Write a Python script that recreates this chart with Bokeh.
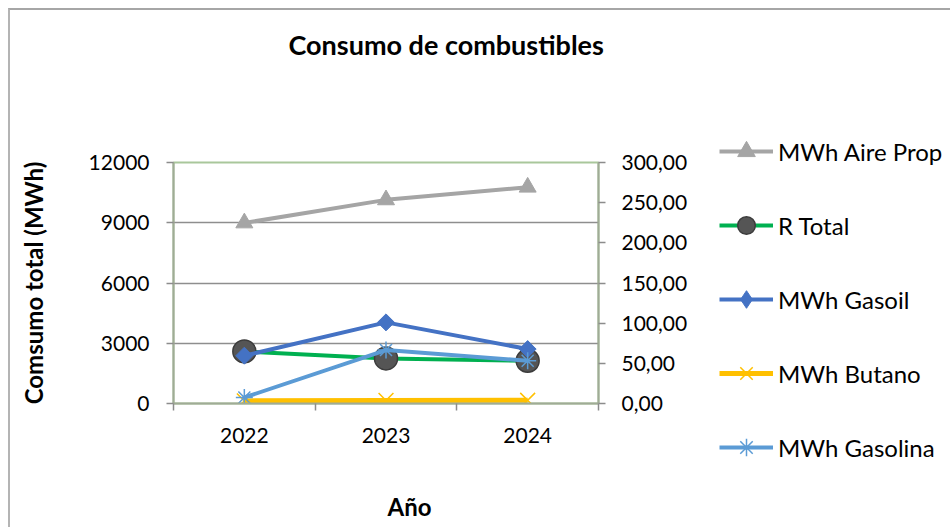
import math
from bokeh.plotting import figure
from bokeh.layouts import row
from bokeh.models import Range1d, LinearAxis, FixedTicker, Legend, LegendItem, Title
from bokeh.embed import file_html
from bokeh.resources import INLINE

# ---- data ----
years = ["2022", "2023", "2024"]
aire_prop = [8990, 10140, 10770]      # MWh (left axis)
r_total = [64.8, 56.1, 53.2]          # right axis
gasoil = [2380, 4040, 2710]           # MWh (left axis)
butano = [130, 150, 160]              # MWh (left axis)
gasolina = [300, 2660, 2130]          # MWh (left axis)
left_ticks = [0, 3000, 6000, 9000, 12000]
right_ticks = [0, 50, 100, 150, 200, 250, 300]
right_labels = ["0,00", "50,00", "100,00", "150,00", "200,00", "250,00", "300,00"]
series_names = ["MWh Aire Prop", "R Total", "MWh Gasoil", "MWh Butano", "MWh Gasolina"]

xs = [i + 0.5 for i in range(len(years))]
bounds = [float(i) for i in range(len(years) + 1)]

FONT = "Lato"
AXIS_COL = "#a0ab96"
TICK_COL = "#8c8c8c"
GREY = "#a5a5a5"
GREEN = "#00b050"
BLUE = "#4472c4"
YELLOW = "#ffc000"
LBLUE = "#5b9bd5"
SPHERE = "#555555"
SPHERE_EDGE = "#3c3c3c"

H = 517
p = figure(width=698, height=H, x_range=Range1d(0, len(years)), y_range=Range1d(0, 12000),
           output_backend="svg", toolbar_location=None,
           min_border_left=163, min_border_right=110, min_border_top=152, min_border_bottom=124)
p.frame_align = False
p.extra_y_ranges = {"right": Range1d(0, 300)}
p.outline_line_color = "#a9c79b"
p.outline_line_width = 2

# title (outermost) + spacer between it and the frame
p.title.text = "Consumo de combustibles"
p.title.text_font = FONT
p.title.text_font_size = "27px"
p.title.text_font_style = "bold"
p.title.text_color = "#000000"
p.title.align = "left"
p.title.offset = 115
p.title.standoff = 10
p.add_layout(Title(text=" ", text_font_size="1px", standoff=94), "above")

# x axis
xa = p.xaxis[0]
xa.ticker = FixedTicker(ticks=xs, minor_ticks=bounds)
xa.major_label_overrides = {x: y for x, y in zip(xs, years)}
xa.major_tick_out = 0
xa.major_tick_in = 0
xa.minor_tick_out = 7
xa.minor_tick_in = 0
xa.minor_tick_line_color = TICK_COL
xa.minor_tick_line_width = 1.5
xa.axis_line_color = AXIS_COL
xa.axis_line_width = 2
xa.major_label_standoff = 17
xa.major_label_text_font = FONT
xa.major_label_text_font_size = "21px"
xa.major_label_text_color = "#000000"

p.add_layout(Title(text=" ", text_font_size="1px", standoff=41), "below")
p.add_layout(Title(text="Año", align="left", offset=214, text_font=FONT, text_font_size="24px",
                   text_font_style="bold", text_color="#000000", standoff=0), "below")

# left axis
ya = p.yaxis[0]
ya.ticker = FixedTicker(ticks=left_ticks)
ya.major_tick_out = 7
ya.major_tick_in = 0
ya.major_tick_line_color = TICK_COL
ya.major_tick_line_width = 1.5
ya.axis_line_color = AXIS_COL
ya.axis_line_width = 2
ya.major_label_standoff = 17
ya.major_label_text_font = FONT
ya.major_label_text_font_size = "21px"
ya.major_label_text_color = "#000000"
ya.axis_label = "Comsumo total (MWh)"
ya.axis_label_text_font = FONT
ya.axis_label_text_font_size = "24px"
ya.axis_label_text_font_style = "bold"
ya.axis_label_text_color = "#000000"
ya.axis_label_standoff = 38

# right axis
ra = LinearAxis(y_range_name="right", ticker=FixedTicker(ticks=right_ticks),
                major_label_overrides=dict(zip(right_ticks, right_labels)))
ra.major_tick_out = 7
ra.major_tick_in = 0
ra.major_tick_line_color = TICK_COL
ra.major_tick_line_width = 1.5
ra.axis_line_color = AXIS_COL
ra.axis_line_width = 2
ra.major_label_standoff = 16
ra.major_label_text_font = FONT
ra.major_label_text_font_size = "21px"
ra.major_label_text_color = "#000000"
p.add_layout(ra, "right")

# grid
p.xgrid.visible = False
p.ygrid.ticker = FixedTicker(ticks=left_ticks)
p.ygrid.grid_line_color = "#8e8e8e"
p.ygrid.grid_line_width = 1.5

# series styles
styles = [
    dict(line=dict(line_color=GREY, line_width=4),
         mark=dict(marker="triangle", size=17, fill_color=GREY, line_color=GREY)),
    dict(line=dict(line_color=GREEN, line_width=4),
         mark=dict(marker="circle", size=23, fill_color=SPHERE, line_color=SPHERE_EDGE, line_width=1.5)),
    dict(line=dict(line_color=BLUE, line_width=4),
         mark=dict(marker="diamond", size=20, fill_color=BLUE, line_color=BLUE)),
    dict(line=dict(line_color=YELLOW, line_width=5),
         mark=dict(marker="x", size=21, line_color=YELLOW, line_width=1.5)),
    dict(line=dict(line_color=LBLUE, line_width=4),
         mark=dict(marker="asterisk", size=17, line_color=LBLUE, line_width=1.5)),
]
values = [aire_prop, r_total, gasoil, butano, gasolina]
ranges = ["default", "right", "default", "default", "default"]

for vals, st, rng in zip(values, styles, ranges):
    p.line(xs, vals, y_range_name=rng, **st["line"])
    mk = dict(st["mark"])
    if mk["marker"] == "diamond":
        mk.update(marker="square", size=12, angle=math.pi / 4)
    p.scatter(xs, vals, y_range_name=rng, **mk)

# ---- legend panel (separate canvas to the right; its glyphs are out of view) ----
q = figure(width=242, height=H, x_range=Range1d(-10, -9), y_range=Range1d(0, 1),
           output_backend="svg", toolbar_location=None, x_axis_type=None, y_axis_type=None,
           min_border_left=0, min_border_right=0, min_border_top=0, min_border_bottom=0)
q.frame_align = False
q.outline_line_color = None
q.xgrid.visible = False
q.ygrid.visible = False

items = []
for name, vals, st in zip(series_names, values, styles):
    lr = q.line(xs, vals, **st["line"])
    mk = {k: v for k, v in st["mark"].items() if k != "size"}
    mr = q.scatter(xs, vals, **mk)
    items.append(LegendItem(label=name, renderers=[lr, mr]))

legend = Legend(items=items, location=(11, 58), glyph_width=54, glyph_height=44, spacing=30,
                label_standoff=5, padding=0, margin=0, border_line_color=None,
                background_fill_alpha=0, label_text_font=FONT, label_text_font_size="24px",
                label_text_color="#000000")
q.add_layout(legend)

lay = row(p, q, spacing=0)
lay.styles = {"border-top": "2px solid #a6a6a6", "border-left": "2px solid #b4b4b4",
              "margin-left": "8px", "margin-top": "8px"}

open("out.html", "w").write(file_html(lay, INLINE))
